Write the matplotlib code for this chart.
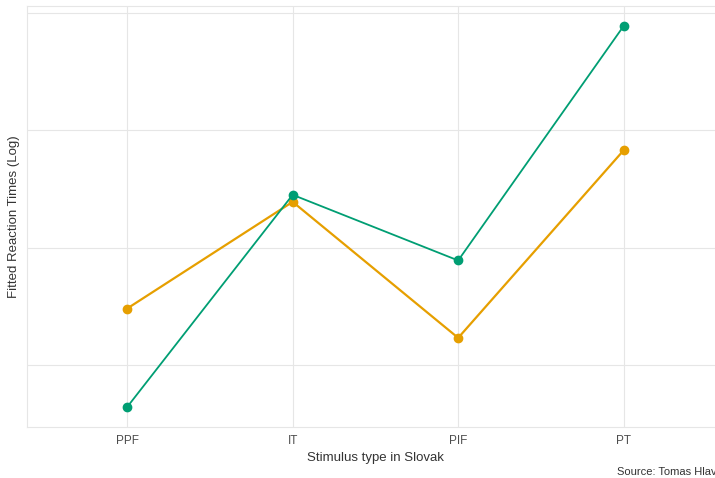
import matplotlib.pyplot as plt

# fitted log reaction times per stimulus type (no y tick labels in the original)
stimuli = ['PPF', 'IT', 'PIF', 'PT']
orange_vals = [6.448, 6.539, 6.423, 6.583]
green_vals = [6.364, 6.545, 6.489, 6.689]
grid_vals = [6.4, 6.5, 6.6, 6.7]

plt.rcParams['font.family'] = ['Liberation Sans', 'DejaVu Sans']

fig = plt.figure(figsize=(7.15, 4.78), dpi=100)
ax = fig.add_axes([27 / 715, 51 / 478, 696 / 715, 421 / 478])

x = range(len(stimuli))
ax.plot(x, orange_vals, color='#E69F00', lw=1.6, marker='o', ms=6, zorder=3)
ax.plot(x, green_vals, color='#009E73', lw=1.3, marker='o', ms=6, zorder=4)

ax.set_xlim(-0.605, 3.6)
ax.set_ylim(6.347, 6.706)
ax.set_xticks(list(x))
ax.set_xticklabels(stimuli)
ax.set_yticks(grid_vals)
ax.set_yticklabels([])
ax.tick_params(length=0, labelsize=8.5, labelcolor='#4d4d4d', pad=6)
ax.grid(True, color='#e6e6e6', lw=0.8, zorder=0)
ax.set_axisbelow(True)
for side in ['left', 'top', 'bottom']:
    ax.spines[side].set_color('#e6e6e6')
    ax.spines[side].set_linewidth(0.8)
ax.spines['right'].set_visible(False)

ax.set_xlabel('Stimulus type in Slovak', fontsize=9.5, color='#333333', labelpad=3)
fig.text(14 / 715, 1 - 217 / 478, 'Fitted Reaction Times (Log)', fontsize=9.5,
         color='#333333', rotation=90, ha='center', va='center')

fig.text(617 / 715, 1 - 472 / 478, 'Source: Tomas Hlaváček', fontsize=8,
         color='#333333', ha='left', va='center')

fig.savefig('out.png', dpi=100)
